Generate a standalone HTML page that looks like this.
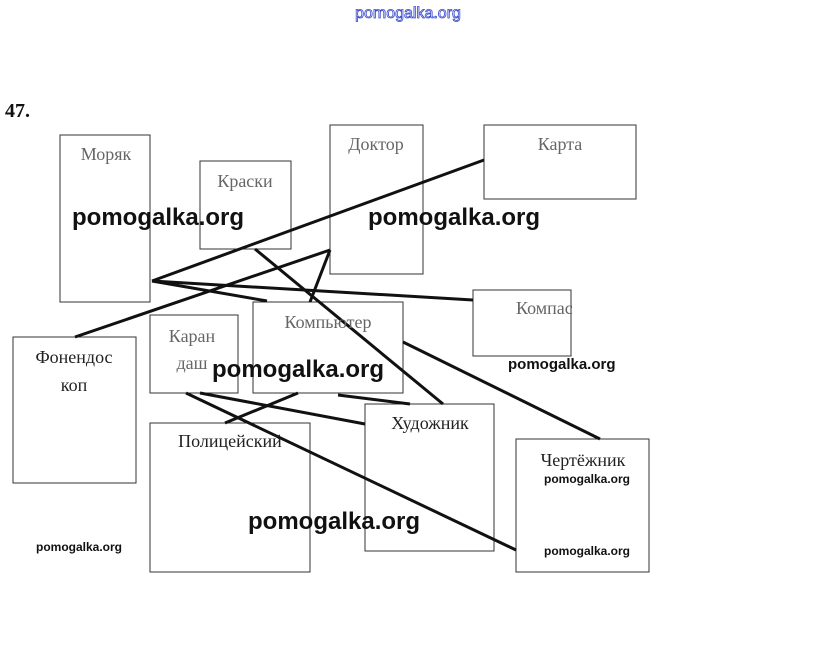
<!DOCTYPE html>
<html><head><meta charset="utf-8"><style>
body{margin:0;background:#fff;width:815px;height:666px;overflow:hidden}
svg{display:block}
.l{font-family:"Liberation Serif","DejaVu Serif",serif;font-size:18px;fill:#666}
.d{fill:#222}
.w{font-family:"Liberation Sans","DejaVu Sans",sans-serif;font-weight:bold;fill:#111}
</style></head><body>
<svg width="815" height="666" viewBox="0 0 815 666">
<text x="408" y="18" text-anchor="middle" font-family="Liberation Sans,sans-serif" font-size="16" fill="#fff" stroke="#3344cc" stroke-width="0.8">pomogalka.org</text>
<text x="5" y="117" font-family="Liberation Serif,serif" font-weight="bold" font-size="20" fill="#111">47.</text>
<g fill="none" stroke="#333" stroke-width="1">
<rect x="60" y="135" width="90" height="167"/>
<rect x="200" y="161" width="91" height="88"/>
<rect x="330" y="125" width="93" height="149"/>
<rect x="484" y="125" width="152" height="74"/>
<rect x="473" y="290" width="98" height="66"/>
<rect x="13" y="337" width="123" height="146"/>
<rect x="150" y="315" width="88" height="78"/>
<rect x="253" y="302" width="150" height="91"/>
<rect x="365" y="404" width="129" height="147"/>
<rect x="516" y="439" width="133" height="133"/>
<rect x="150" y="423" width="160" height="149"/>
</g>
<g stroke="#111" stroke-width="3" fill="none">
<line x1="152" y1="281" x2="484" y2="160"/>
<line x1="152" y1="281" x2="267" y2="301"/>
<line x1="152" y1="281" x2="473" y2="300"/>
<line x1="75" y1="337" x2="330" y2="250"/>
<line x1="330" y1="250" x2="310" y2="302"/>
<line x1="255" y1="249" x2="443" y2="404"/>
<line x1="403" y1="342" x2="600" y2="439"/>
<line x1="200" y1="393" x2="365" y2="424"/>
<line x1="186" y1="393" x2="516" y2="550"/>
<line x1="298" y1="393" x2="225" y2="423"/>
<line x1="338" y1="395" x2="410" y2="404"/>
</g>
<text class="l" x="106" y="160" text-anchor="middle">Моряк</text>
<text class="l" x="245" y="187" text-anchor="middle">Краски</text>
<text class="l" x="376" y="150" text-anchor="middle">Доктор</text>
<text class="l" x="560" y="150" text-anchor="middle">Карта</text>
<text class="l" x="516" y="314">Компас</text>
<text class="l d" x="74" y="363" text-anchor="middle">Фонендос</text>
<text class="l d" x="74" y="391" text-anchor="middle">коп</text>
<text class="l" x="192" y="342" text-anchor="middle">Каран</text>
<text class="l" x="192" y="369" text-anchor="middle">даш</text>
<text class="l" x="328" y="328" text-anchor="middle">Компьютер</text>
<text class="l d" x="430" y="429" text-anchor="middle">Художник</text>
<text class="l d" x="583" y="466" text-anchor="middle">Чертёжник</text>
<text class="l d" x="230" y="447" text-anchor="middle">Полицейский</text>
<text class="w" x="72" y="225" font-size="24">pomogalka.org</text>
<text class="w" x="368" y="225" font-size="24">pomogalka.org</text>
<text class="w" x="212" y="377" font-size="24">pomogalka.org</text>
<text class="w" x="248" y="529" font-size="24">pomogalka.org</text>
<text class="w" x="508" y="369" font-size="15" font-weight="normal">pomogalka.org</text>
<text class="w" x="544" y="483" font-size="12" font-weight="normal">pomogalka.org</text>
<text class="w" x="544" y="555" font-size="12" font-weight="normal">pomogalka.org</text>
<text class="w" x="36" y="551" font-size="12" font-weight="normal">pomogalka.org</text>
</svg>
</body></html>
